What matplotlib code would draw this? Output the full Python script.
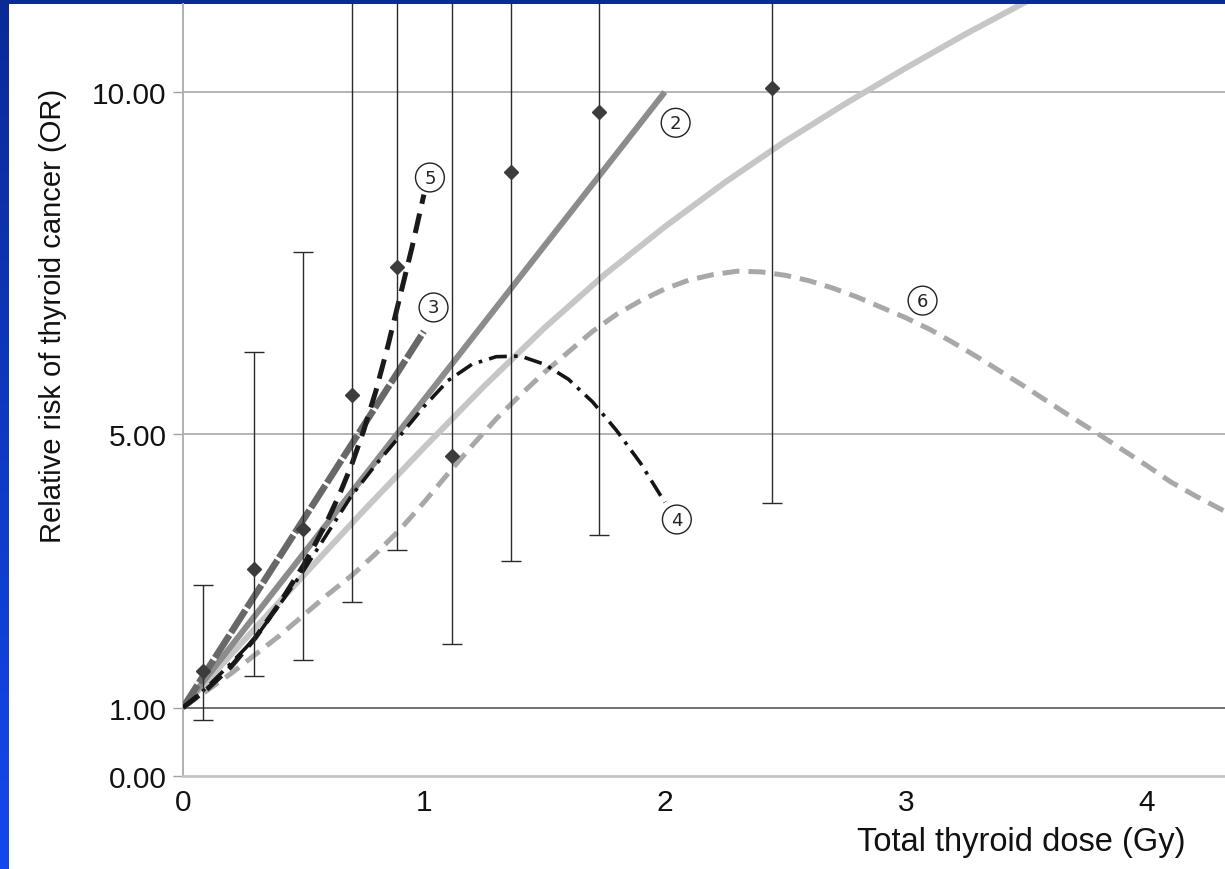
import numpy as np
import matplotlib
matplotlib.use("Agg")
import matplotlib.pyplot as plt
from matplotlib.patches import Rectangle
from matplotlib.colors import LinearSegmentedColormap

plt.rcParams['font.family'] = ['Liberation Sans', 'DejaVu Sans']

# ---------------- data ----------------
# observed odds ratios with 95% CI (upper limits above the chart are estimated)
obs_dose = [0.083, 0.295, 0.50, 0.70, 0.888, 1.117, 1.362, 1.728, 2.447]
obs_or = [1.54, 3.03, 3.61, 5.57, 7.44, 4.68, 8.83, 9.71, 10.06]
obs_low = [0.82, 1.46, 1.70, 2.54, 3.30, 1.93, 3.14, 3.52, 3.99]
obs_high = [2.79, 6.20, 7.66, 13.0, 14.0, 13.0, 15.0, 16.0, 17.0]

# model 2: linear
m2_dose = [0.0, 2.0]
m2_or = [1.0, 10.0]

# model 3: linear, steeper
m3_dose = [0.0, 1.0]
m3_or = [1.0, 6.5]

# model 4: rises then falls
m4_dose = [0.0, 0.1, 0.2, 0.3, 0.4, 0.5, 0.6, 0.7, 0.8, 0.9, 1.0, 1.1, 1.2,
           1.3, 1.4, 1.5, 1.6, 1.7, 1.8, 1.9, 2.0]
m4_or = [1.0, 1.3, 1.65, 2.02, 2.5, 3.0, 3.55, 4.1, 4.55, 4.97, 5.4, 5.78, 6.02,
         6.13, 6.14, 6.02, 5.8, 5.47, 5.05, 4.57, 4.0]

# model 5: upward curving
m5_dose = [0.0, 0.1, 0.2, 0.3, 0.4, 0.5, 0.55, 0.6, 0.65, 0.7, 0.75, 0.8, 0.85,
           0.9, 0.95, 1.0]
m5_or = [1.0, 1.27, 1.6, 2.02, 2.52, 3.08, 3.4, 3.74, 4.12, 4.55, 5.05, 5.62, 6.28,
         7.0, 7.72, 8.5]

# model 6: peaked, dashed light grey
m6_dose = [0.0, 0.2, 0.4, 0.6, 0.7, 0.8, 0.9, 1.0, 1.1, 1.2, 1.3, 1.4, 1.5, 1.6,
           1.7, 1.8, 1.9, 2.0, 2.1, 2.2, 2.3, 2.4, 2.5, 2.6, 2.7, 2.8, 2.9, 3.0,
           3.1, 3.2, 3.3, 3.4, 3.5, 3.6, 3.7, 3.8, 3.9, 4.0, 4.1, 4.2, 4.33]
m6_or = [1.0, 1.5, 2.05, 2.65, 2.93, 3.25, 3.6, 4.0, 4.42, 4.83, 5.22, 5.57, 5.9,
         6.2, 6.5, 6.75, 6.95, 7.12, 7.25, 7.33, 7.38, 7.37, 7.32, 7.24, 7.13,
         7.0, 6.85, 6.7, 6.53, 6.33, 6.12, 5.9, 5.68, 5.45, 5.22, 5.0, 4.77,
         4.54, 4.3, 4.1, 3.86]

# unlabelled light grey solid curve
m1_dose = [0.0, 0.25, 0.5, 0.75, 1.0, 1.25, 1.5, 1.75, 2.0, 2.25, 2.5, 2.75,
           3.0, 3.25, 3.5, 3.6]
m1_or = [1.0, 1.97, 2.93, 3.88, 4.80, 5.70, 6.55, 7.33, 8.03, 8.68, 9.28, 9.83,
         10.35, 10.85, 11.32, 11.5]

# curve labels
label_text = ['2', '3', '4', '5', '6']
label_dose = [2.045, 1.04, 2.05, 1.025, 3.07]
label_or = [9.55, 6.85, 3.75, 8.75, 6.95]

y_ticks = [0.0, 1.0, 5.0, 10.0]
x_ticks = [0, 1, 2, 3, 4]

# ---------------- figure ----------------
W, H = 1225, 870
fig = plt.figure(figsize=(W / 100, H / 100), dpi=100)

# blue slide background with gradient
bg = fig.add_axes([0, 0, 1, 1])
grad = np.linspace(0, 1, 256).reshape(-1, 1)
cmap = LinearSegmentedColormap.from_list('bl', ['#0a2a96', '#1448ee'])
bg.imshow(grad, aspect='auto', cmap=cmap, extent=[0, 1, 0, 1], origin='upper')
bg.set_axis_off()
bg.add_patch(Rectangle((9 / W, 0), 1 - 9 / W, 1 - 5 / H, transform=bg.transAxes,
                       facecolor='white', edgecolor='none'))

x0, y0 = 183, 777
xmax = (W - x0) / 240.9
ymax = (y0 - 5) / 68.4
ax = fig.add_axes([x0 / W, 1 - y0 / H, 1 - x0 / W, (y0 - 5) / H])
ax.set_facecolor('none')
ax.set_xlim(0, xmax)
ax.set_ylim(0, ymax)

# grid lines
for yv in y_ticks[1:]:
    ax.axhline(yv, color='#707070' if yv == 1.0 else '#b4b4b4', lw=1.4, zorder=1)

for s in ['top', 'right']:
    ax.spines[s].set_visible(False)
ax.spines['left'].set_color('#b0b0b0')
ax.spines['left'].set_linewidth(1.4)
ax.spines['bottom'].set_color('#c4c4c4')
ax.spines['bottom'].set_linewidth(2)

ax.set_yticks(y_ticks)
ax.set_yticklabels([f"{v:.2f}" for v in y_ticks])
ax.set_xticks(x_ticks)
ax.set_xticklabels([str(v) for v in x_ticks])
ax.tick_params(axis='y', length=7, width=1, color='#a0a0a0', pad=5, labelsize=21.5,
               labelcolor='#111111')
ax.tick_params(axis='x', length=0, pad=9, labelsize=21.5, labelcolor='#111111')

# curves
ax.plot(m1_dose, m1_or, color='#c6c6c6', lw=4.3, solid_capstyle='butt',
        solid_joinstyle='round', zorder=2)
ax.plot(m2_dose, m2_or, color='#8c8c8c', lw=4.3, solid_capstyle='butt', zorder=3)
ax.plot(m6_dose, m6_or, color='#a8a8a8', lw=3.6, dashes=(3.4, 1.8), zorder=3)
ax.plot(m3_dose, m3_or, color='#686868', lw=4.8, dashes=(4.0, 0.45), zorder=4)
ax.plot(m5_dose, m5_or, color='#1a1a1a', lw=3.6, dashes=(4.0, 2.0), zorder=5)
ax.plot(m4_dose, m4_or, color='#151515', lw=2.6, dashes=(5.0, 2.0, 1.0, 2.0), zorder=6)

# observed points with error bars
yerr = [np.array(obs_or) - np.array(obs_low), np.array(obs_high) - np.array(obs_or)]
ax.errorbar(obs_dose, obs_or, yerr=yerr, fmt='D', color='#3c3c3c', ms=7,
            ecolor='#2a2a2a', elinewidth=1.0, capsize=7, capthick=1.0, zorder=7)

# circled labels
for t, xd, yo in zip(label_text, label_dose, label_or):
    ax.text(xd, yo, t, fontsize=13, family='DejaVu Sans', color='#222222',
            ha='center', va='center', zorder=8,
            bbox=dict(boxstyle='circle,pad=0.3', facecolor='white',
                      edgecolor='#222222', lw=1.0))

ax.set_xlabel('Total thyroid dose (Gy)', fontsize=23.5, color='#111111')
ax.xaxis.set_label_coords((1021 - x0) / (W - x0), -(843 - y0) / (y0 - 5))
ax.xaxis.label.set_va('center')
ax.set_ylabel('Relative risk of thyroid cancer (OR)', fontsize=21, color='#111111')
ax.yaxis.set_label_coords(-(x0 - 53) / (W - x0), (y0 - 316) / (y0 - 5))
ax.yaxis.label.set_va('center')

fig.savefig('out.png', dpi=100)
